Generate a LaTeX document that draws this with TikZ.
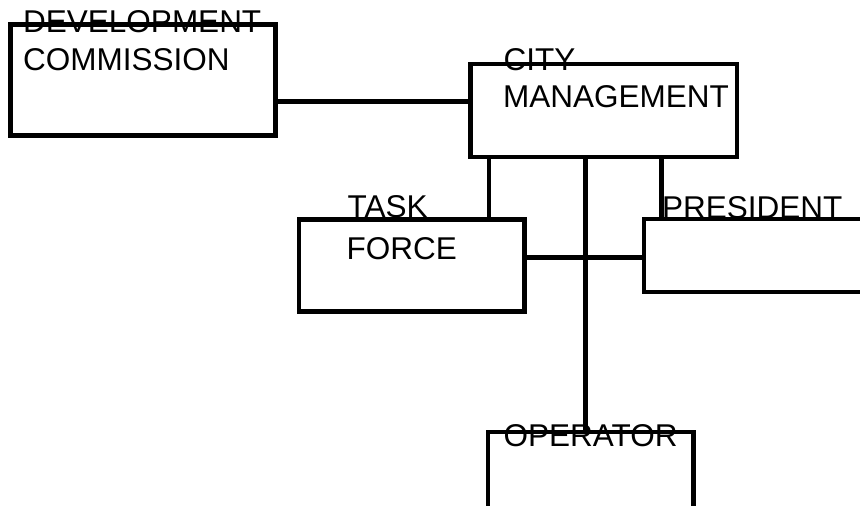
\documentclass[tikz,border=0pt]{standalone}
\usepackage{fontspec}
\setmainfont{Liberation Sans}
\begin{document}
\begin{tikzpicture}[x=1pt,y=-1pt,
  box/.style={draw=black,line width=4.3pt},
  conn/.style={draw=black,line width=4.3pt},
  lbl/.style={anchor=base west,inner sep=0pt,font=\fontsize{31.5}{36}\selectfont}]
\useasboundingbox (0,0) rectangle (860,506);
\clip (0,0) rectangle (860,506);
% boxes
\draw[box] (10.5,24.5) rectangle (275.5,135.5);
\coordinate (dc) at (275.5,101.5);
\draw[box] (470.5,64) rectangle (737,157);
\draw[box] (299,219.5) rectangle (524.5,311.5);
\draw[box] (644,219) rectangle (880,292);
\draw[box] (488,432) rectangle (693.5,530);
% named connection points
\coordinate (cmW) at (470.5,101.5);
\coordinate (cm1) at (489,157);
\coordinate (cm2) at (585.5,157);
\coordinate (cm3) at (661.5,157);
\coordinate (tfTop) at (489,219.5);
\coordinate (tfE) at (524.5,257.5);
\coordinate (prW) at (644,257.5);
\coordinate (prTop) at (661.5,219);
\coordinate (opTop) at (585.5,432);
% connectors
\draw[conn] (dc) -- (cmW);
\draw[conn] (cm1) -- (tfTop);
\draw[conn] (cm2) -- (opTop);
\draw[conn] (cm3) -- (prTop);
\draw[conn] (tfE) -- (prW);
% labels
\node[lbl] (dc1) at (23,32) {DEVELOPMENT};
\node[lbl] (dc2) at (23,70) {COMMISSION};
\node[lbl] (cmt1) at (503.5,70) {CITY};
\node[lbl] (cmt2) at (503,107) {MANAGEMENT};
\node[lbl] (tf1) at (347.5,217) {TASK};
\node[lbl] (tf2) at (346.5,259) {FORCE};
\node[lbl] (pr1) at (662,218) {PRESIDENT};
\node[lbl] (op1) at (503.5,446) {OPERATOR};
\end{tikzpicture}
\end{document}
